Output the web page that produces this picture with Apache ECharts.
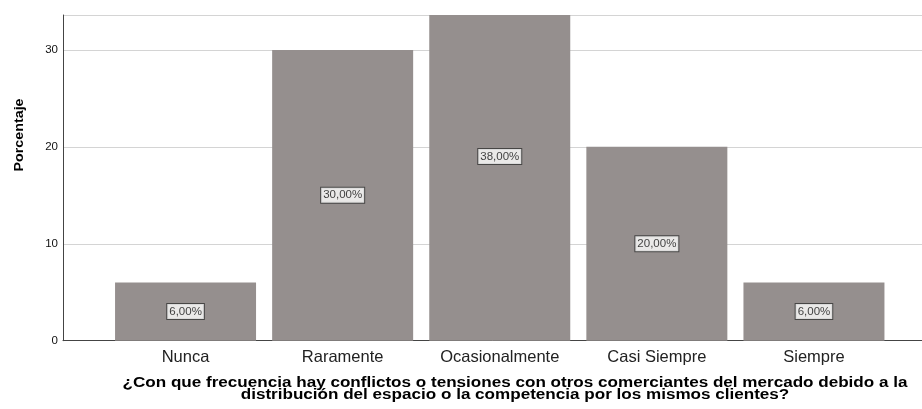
<!DOCTYPE html>
<html><head><meta charset="utf-8">
<script src="https://cdn.jsdelivr.net/npm/echarts@6/dist/echarts.min.js"></script>
<style>html,body{margin:0;padding:0;background:#fff}#c{width:922px;height:409px}</style>
</head><body><div id="c"></div>
<script>
const categories = ['Nunca', 'Raramente', 'Ocasionalmente', 'Casi Siempre', 'Siempre'];
const values = [6, 30, 38, 20, 6];
const yTicks = [0, 10, 20, 30];
const yTitle = 'Porcentaje';
const xTitle = '¿Con que frecuencia hay conflictos o tensiones con otros comerciantes del mercado debido a la\ndistribución del espacio o la competencia por los mismos clientes?';

const gridTop = 15, gridBottom = 68.3, yMax = 33.6;
const chart = echarts.init(document.getElementById('c'));
chart.setOption({
  animation: false,
  grid: [
    {left: 63, right: 0, top: gridTop, bottom: gridBottom},
    {left: 107, right: 29.5, top: gridTop, bottom: gridBottom}
  ],
  xAxis: [
    {gridIndex: 0, type: 'value', min: 0, max: 1, axisLine: {show: true, lineStyle: {color: '#444', width: 1}},
     axisTick: {show: false}, axisLabel: {show: false}, splitLine: {show: false}},
    {gridIndex: 1, type: 'category', data: categories, axisLine: {show: false}, axisTick: {show: false},
     axisLabel: {color: '#222', fontSize: 16.5, fontFamily: 'Liberation Sans, Arial', margin: 8}}
  ],
  yAxis: [
    {gridIndex: 0, type: 'value', min: 0, max: yMax, interval: 10,
     axisLine: {show: true, lineStyle: {color: '#444'}}, axisTick: {show: false},
     axisLabel: {color: '#111', fontSize: 11.5, fontFamily: 'Liberation Sans, Arial', margin: 5,
       formatter: v => yTicks.includes(v) ? String(v) : ''},
     splitLine: {show: true, lineStyle: {color: '#d4d4d4', width: 1}}},
    {gridIndex: 1, type: 'value', min: 0, max: yMax, show: false}
  ],
  series: [
    {type: 'bar', xAxisIndex: 1, yAxisIndex: 1, data: values, barWidth: 141,
     itemStyle: {color: '#958f8e'}, clip: true, z: 2},
    {type: 'scatter', xAxisIndex: 1, yAxisIndex: 1, symbolSize: 0, z: 5, clip: false,
     data: values.map((v, i) => ({value: [i, v / 2], raw: v})),
     label: {show: true, position: 'inside', color: '#111', fontSize: 11.5, fontFamily: 'Liberation Sans, Arial',
       backgroundColor: '#fff', borderColor: '#333', borderWidth: 1, padding: [2, 2, 1, 2],
       formatter: p => p.data.raw.toFixed(2).replace('.', ',') + '%'}}
  ],
  graphic: [
    {type: 'text', x: 19, y: 135, rotation: Math.PI / 2, scaleX: 1.1,
     style: {text: yTitle, font: 'bold 13px Liberation Sans, Arial', fill: '#000', align: 'center', verticalAlign: 'middle'}},
    {type: 'text', x: 515, y: 389.5, scaleX: 1.22,
     style: {text: xTitle, font: 'bold 14px Liberation Sans, Arial', fill: '#000', align: 'center', verticalAlign: 'middle', lineHeight: 12}}
  ]
});
</script></body></html>
